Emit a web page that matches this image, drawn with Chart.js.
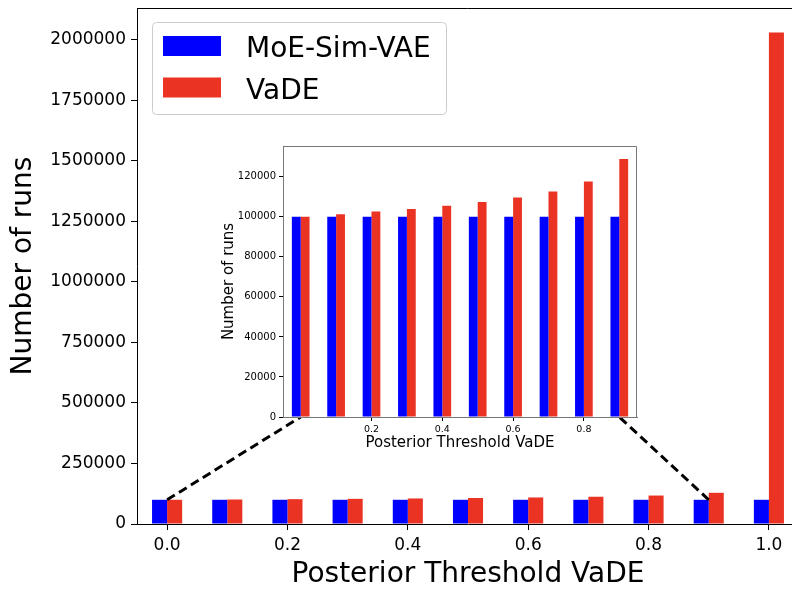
<!DOCTYPE html>
<html>
<head>
<meta charset="utf-8">
<script src="https://cdn.jsdelivr.net/npm/chart.js@4.4.0/dist/chart.umd.min.js"></script>
<style>
  html, body { margin: 0; padding: 0; background: #fff; overflow: hidden; }
  #wrap { position: relative; width: 800px; height: 589px; }
  #main { position: absolute; left: 0; top: 0; }
  #zoom { position: absolute; left: 215px; top: 140px; }
</style>
</head>
<body>
<div id="wrap">
  <canvas id="main" width="799" height="589"></canvas>
  <canvas id="zoom" width="430" height="320"></canvas>
</div>
<script>
// posterior thresholds on the x axis
var thresholds = ['0.0', '0.1', '0.2', '0.3', '0.4', '0.5', '0.6', '0.7', '0.8', '0.9', '1.0'];
var moeRuns = [100000, 100000, 100000, 100000, 100000, 100000, 100000, 100000, 100000, 100000, 100000];
var vadeRuns = [100000, 101200, 102600, 103900, 105500, 107400, 109600, 112600, 117600, 128900, 2030000];
var mainTickLabels = ['0.0', '0.2', '0.4', '0.6', '0.8', '1.0'];
var insetTickLabels = ['0.2', '0.4', '0.6', '0.8'];
var mainYTicks = [0, 250000, 500000, 750000, 1000000, 1250000, 1500000, 1750000, 2000000];
var insetYTicks = [0, 20000, 40000, 60000, 80000, 100000, 120000];
var insetCount = 10;

var BLUE = '#0000ff';
var RED = '#ea3323';

Chart.defaults.font.family = 'DejaVu Sans';
Chart.defaults.color = '#000';

function onlyLabels(list) {
    return {
        label: function(v, i) { return list.indexOf(thresholds[i]) >= 0 ? thresholds[i] : ''; },
        tick: function(ctx) { return list.indexOf(thresholds[ctx.index]) >= 0 ? '#000' : 'rgba(0,0,0,0)'; }
    };
}

function fixedTicks(values) {
    return function(scale) {
        scale.ticks = values.map(function(v) { return { value: v }; });
    };
}

// fixed axis width, no extra room reserved for end labels
function fixedWidth(w) {
    return function(s) { s.width = w; s.paddingTop = 0; s.paddingBottom = 0; };
}

// white axes patch + top/right spines
function framePlugin(color, fill) {
    return {
        id: 'frame',
        beforeDraw: function(chart) {
            if (!fill) return;
            var a = chart.chartArea, ctx = chart.ctx;
            ctx.save();
            ctx.fillStyle = '#fff';
            ctx.fillRect(a.left, a.top, a.right - a.left, a.bottom - a.top);
            ctx.restore();
        },
        afterDraw: function(chart) {
            var a = chart.chartArea, ctx = chart.ctx;
            ctx.save();
            ctx.strokeStyle = color;
            ctx.lineWidth = 1;
            ctx.beginPath();
            ctx.moveTo(a.left, a.top + 0.5);
            ctx.lineTo(a.right - 0.5, a.top + 0.5);
            ctx.lineTo(a.right - 0.5, a.bottom);
            ctx.stroke();
            ctx.restore();
        }
    };
}

var insetSel = onlyLabels(insetTickLabels);
var zoomCanvas = document.getElementById('zoom');

var inset = new Chart(zoomCanvas, {
    type: 'bar',
    data: {
        labels: thresholds.slice(0, insetCount),
        datasets: [
            { label: 'MoE-Sim-VAE', data: moeRuns.slice(0, insetCount), backgroundColor: BLUE },
            { label: 'VaDE', data: vadeRuns.slice(0, insetCount), backgroundColor: RED }
        ]
    },
    options: {
        responsive: false,
        animation: false,
        datasets: { bar: { categoryPercentage: 0.5, barPercentage: 1, borderWidth: 0 } },
        layout: { padding: { top: 6, right: 8, left: 0, bottom: 0 } },
        plugins: { legend: { display: false }, tooltip: { enabled: false } },
        scales: {
            x: {
                grid: { offset: false, drawOnChartArea: false, tickLength: 4, tickColor: insetSel.tick },
                border: { color: '#777' },
                ticks: { autoSkip: false, maxRotation: 0, padding: 3, font: { size: 9.5 }, callback: insetSel.label },
                title: { display: true, text: 'Posterior Threshold VaDE', font: { size: 15 }, padding: { top: 0, bottom: 8 } },
                afterFit: function(s) { s.height = 43; }
            },
            y: {
                min: 0,
                max: Math.max.apply(null, vadeRuns.slice(0, insetCount)) * 1.05,
                afterBuildTicks: fixedTicks(insetYTicks),
                grid: { drawOnChartArea: false, tickLength: 4, tickColor: '#000' },
                border: { color: '#777' },
                ticks: { padding: 3, font: { size: 10 }, callback: function(v) { return String(v); } },
                title: { display: true, text: 'Number of runs', font: { size: 15 }, padding: { top: 5 } },
                afterFit: fixedWidth(68)
            }
        }
    },
    plugins: [framePlugin('#777', true)]
});

// dashed connectors from the small bars up to the inset
var connectors = {
    id: 'connectors',
    afterDraw: function(chart) {
        var xs = chart.scales.x, ys = chart.scales.y;
        var ix = inset.scales.x, iy = inset.scales.y;
        var ox = zoomCanvas.offsetLeft, oy = zoomCanvas.offsetTop;
        var ctx = chart.ctx;
        ctx.save();
        ctx.strokeStyle = '#000';
        ctx.lineWidth = 3;
        ctx.setLineDash([9, 5]);
        [0, insetCount - 1].forEach(function(i) {
            ctx.beginPath();
            ctx.moveTo(xs.getPixelForValue(i), ys.getPixelForValue(moeRuns[i]));
            ctx.lineTo(ox + ix.getPixelForValue(i), oy + iy.getPixelForValue(0));
            ctx.stroke();
        });
        ctx.restore();
    }
};

var legendBox = {
    id: 'legendBox',
    afterDraw: function(chart) {
        var ctx = chart.ctx;
        var x = 152.5, y = 22.5, w = 294, h = 92, r = 4;
        ctx.save();
        ctx.beginPath();
        ctx.moveTo(x + r, y);
        ctx.arcTo(x + w, y, x + w, y + h, r);
        ctx.arcTo(x + w, y + h, x, y + h, r);
        ctx.arcTo(x, y + h, x, y, r);
        ctx.arcTo(x, y, x + w, y, r);
        ctx.closePath();
        ctx.fillStyle = 'rgba(255,255,255,0.8)';
        ctx.fill();
        ctx.strokeStyle = '#cccccc';
        ctx.lineWidth = 1;
        ctx.stroke();
        ctx.font = '28px "DejaVu Sans"';
        ctx.textBaseline = 'alphabetic';
        chart.data.datasets.forEach(function(ds, k) {
            var top = 36 + k * 41.5;
            ctx.fillStyle = ds.backgroundColor;
            ctx.fillRect(163, top, 58, 20);
            ctx.fillStyle = '#000';
            ctx.fillText(ds.label, 246, top + 21);
        });
        ctx.restore();
    }
};

var mainSel = onlyLabels(mainTickLabels);

new Chart(document.getElementById('main'), {
    type: 'bar',
    data: {
        labels: thresholds,
        datasets: [
            { label: 'MoE-Sim-VAE', data: moeRuns, backgroundColor: BLUE },
            { label: 'VaDE', data: vadeRuns, backgroundColor: RED }
        ]
    },
    options: {
        responsive: false,
        animation: false,
        datasets: { bar: { categoryPercentage: 0.5, barPercentage: 1, borderWidth: 0 } },
        layout: { padding: { top: 8, right: 0, left: 0, bottom: 0 } },
        plugins: { legend: { display: false }, tooltip: { enabled: false } },
        scales: {
            x: {
                grid: { offset: false, drawOnChartArea: false, tickLength: 6, tickColor: mainSel.tick },
                border: { color: '#000' },
                ticks: { autoSkip: false, maxRotation: 0, padding: 5, font: { size: 17 }, callback: mainSel.label },
                title: { display: true, text: 'Posterior Threshold VaDE', font: { size: 28 }, padding: { top: 0, bottom: -3 } },
                afterFit: function(s) { s.height = 65; }
            },
            y: {
                min: 0,
                max: Math.max.apply(null, vadeRuns) * 1.05,
                afterBuildTicks: fixedTicks(mainYTicks),
                grid: { drawOnChartArea: false, tickLength: 6, tickColor: '#000' },
                border: { color: '#000' },
                ticks: { padding: 5, font: { size: 17 }, callback: function(v) { return String(v); } },
                title: { display: true, text: 'Number of runs', font: { size: 28 }, padding: { top: 7 } },
                afterFit: fixedWidth(137)
            }
        }
    },
    plugins: [framePlugin('#000', false), connectors, legendBox]
});
</script>
</body>
</html>
